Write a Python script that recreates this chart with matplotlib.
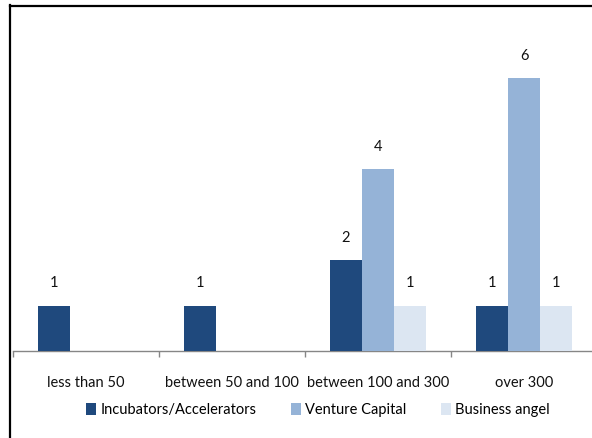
import numpy as np
import matplotlib.pyplot as plt
from matplotlib.patches import Patch
from matplotlib.lines import Line2D

plt.rcParams['font.family'] = ['Lato', 'DejaVu Sans']

categories = ['less than 50', 'between 50 and 100', 'between 100 and 300', 'over 300']
series_names = ['Incubators/Accelerators', 'Venture Capital', 'Business angel']
incubators = [1, 1, 2, 1]
venture = [0, 0, 4, 6]
angels = [0, 0, 1, 1]
colors = ['#1F497D', '#95B3D7', '#DCE6F2']

W, H = 592, 438
fig = plt.figure(figsize=(W / 100, H / 100), dpi=100)

# plot area in pixels: baseline at y=351, categories 146px wide starting at x=13
left, base, cat_w, unit = 13, 351, 146, 45.5
ymax = 7
ax = fig.add_axes([left / W, (H - base) / H, 4 * cat_w / W, ymax * unit / H])
ax.set_xlim(-0.5, 3.5)
ax.set_ylim(0, ymax)

x = np.arange(len(categories))
bw = 32 / cat_w
for i, (vals, col) in enumerate(zip([incubators, venture, angels], colors)):
    xs = x + (i - 1) * bw
    ax.bar(xs, vals, width=bw, color=col, edgecolor='none', zorder=3)
    for xi, v in zip(xs, vals):
        if v > 0:
            ax.annotate(str(v), (xi, v), xytext=(0, 16), textcoords='offset points',
                        ha='center', va='center', fontsize=10.5, color='#111111')

for s in ['top', 'right', 'left']:
    ax.spines[s].set_visible(False)
ax.spines['bottom'].set_color('#868686')
ax.spines['bottom'].set_linewidth(1.0)
ax.set_yticks([])
ax.set_xticks(np.arange(-0.5, 4, 1))
ax.set_xticklabels([])
ax.tick_params(axis='x', which='major', length=4, color='#868686', width=1.0)
ax.set_xticks(x, minor=True)
ax.set_xticklabels(categories, minor=True, fontsize=10.5, color='#111111')
ax.tick_params(axis='x', which='minor', length=0, pad=18)

handles = [Patch(facecolor=c, edgecolor='none') for c in colors]
fig.legend(handles, series_names, loc='center', bbox_to_anchor=(318 / W, 1 - 410 / H),
           ncol=3, frameon=False, fontsize=10.5, handlelength=0.65, handleheight=0.9,
           handletextpad=0.3, columnspacing=2.4)

# outer frame (top and left edges)
fig.add_artist(Line2D([9.5 / W, 9.5 / W], [0, 1 - 5 / H], color='black', lw=1.6,
                      transform=fig.transFigure))
fig.add_artist(Line2D([9.5 / W, 1], [1 - 5.5 / H, 1 - 5.5 / H], color='black', lw=1.6,
                      transform=fig.transFigure))

fig.savefig('out.png', dpi=100)
